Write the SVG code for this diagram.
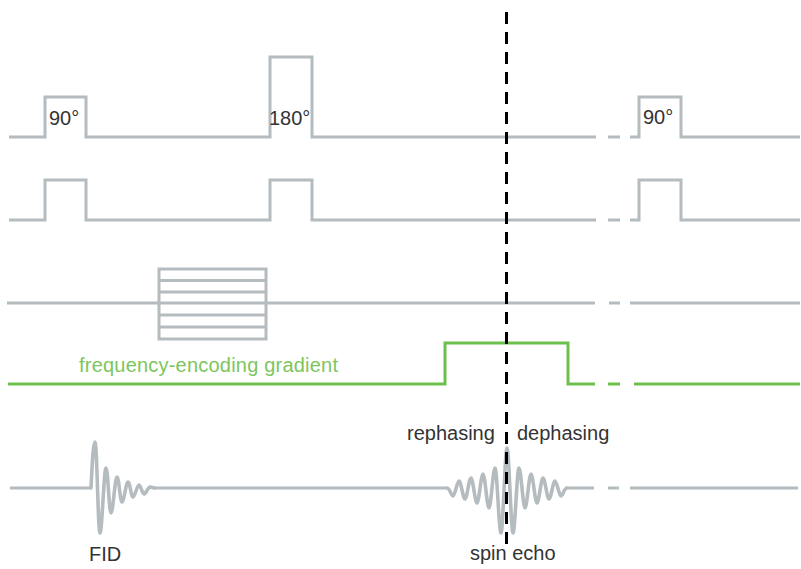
<svg xmlns="http://www.w3.org/2000/svg" width="801" height="569" viewBox="0 0 801 569">
<style>
.g{fill:none;stroke:#b5bcbf;stroke-width:3;stroke-linejoin:miter}
.w{fill:none;stroke:#b5bcbf;stroke-width:3.6;stroke-linejoin:round;stroke-linecap:round}
.l{fill:none;stroke:#b5bcbf;stroke-width:3}
.gr{fill:none;stroke:#6cc04c;stroke-width:3}
.t{font-family:"Liberation Sans",Arial,sans-serif;font-size:20px;fill:#333}
.tg{font-family:"Liberation Sans",Arial,sans-serif;font-size:20px;fill:#7cc65c}
</style>
<rect width="801" height="569" fill="#fff"/>
<g id="rf">
<path class="g" d="M9,137 H45 V97 H86 V137 H270 V57 H312 V137 H596"/>
<path class="g" d="M608,137 H620"/>
<path class="g" d="M630,137 H639 V97 H681 V137 H800"/>
<text class="t" x="49" y="125" font-size="22">90°</text>
<text class="t" x="269" y="125" font-size="21">180°</text>
<text class="t" x="643" y="124" font-size="22">90°</text>
</g>
<g id="slice">
<path class="g" d="M9,220 H45 V180 H86 V220 H270 V180 H312 V220 H596"/>
<path class="g" d="M608,220 H620"/>
<path class="g" d="M630,220 H639 V180 H681 V220 H800"/>
</g>
<g id="phase">
<path class="g" d="M7,303 H159 M266,303 H595"/>
<path class="g" d="M609,303 H620"/>
<path class="g" d="M630,303 H800"/>
<rect class="g" x="159" y="269" width="107" height="70"/>
<path class="g" d="M159,280.5 H266 M159,292 H266 M159,303 H266 M159,315 H266 M159,327 H266"/>
</g>
<g id="frequency">
<path class="gr" d="M8,384 H445 V343 H568 V384 H595"/>
<path class="gr" d="M608,384 H620"/>
<path class="gr" d="M634,384 H800"/>
<text class="tg" x="79" y="372" textLength="259">frequency-encoding gradient</text>
</g>
<g id="signal">
<path class="l" d="M10,488 H91 M155,488 H447 M567,488 H594"/>
<path class="w" d="M91,488 C92,470 93,442 95,442 C97,442 98,533 100,533 C102,533 104,468 106,468 C108,468 109,513 111,513 C113,513 115,477 117,477 C119,477 120,502 122,502 C124,502 126,482 128,482 C130,482 131,497 133,497 C135,497 137,485 139,485 C141,485 142,494 144,494 C146,494 148,487 150,487 C152,487 153,488 155,488"/>
<path class="w" d="M447,488 C450,488 451,496 453,496 C455,496 457,481 459,481 C461,481 463,499 465,499 C467,499 469,478 471,478 C473,478 475,503 477,503 C479,503 481,474 483,474 C485,474 487,508 489,508 C491,508 493,468 495,468 C497,468 499,533 501,533 C503,533 505,448 507,448 C509,448 511,533 513,533 C515,533 517,468 519,468 C521,468 523,508 525,508 C527,508 529,474 531,474 C533,474 535,503 537,503 C539,503 541,478 543,478 C545,478 547,499 549,499 C551,499 553,481 555,481 C557,481 559,496 561,496 C563,496 564,488 567,488"/>
<path class="l" d="M608,488 H619"/>
<path class="l" d="M630,488 H798"/>
<text class="t" x="89" y="561" font-size="19">FID</text>
<text class="t" x="407" y="440">rephasing</text>
<text class="t" x="517" y="440">dephasing</text>
<text class="t" x="470" y="560">spin echo</text>
</g>
<g id="connectors">
<line x1="506.5" y1="12" x2="506.5" y2="548" stroke="#000" stroke-width="3" stroke-dasharray="12 8"/>
</g>
</svg>
